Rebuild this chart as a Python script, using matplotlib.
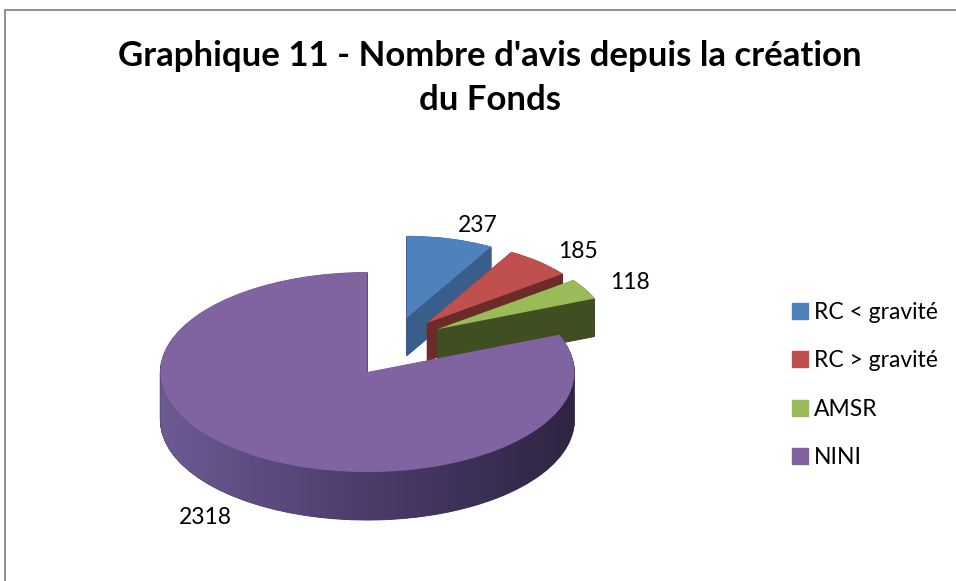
import numpy as np
import matplotlib
matplotlib.use("Agg")
import matplotlib.pyplot as plt
from matplotlib.colors import LinearSegmentedColormap
from matplotlib.patches import Rectangle, Polygon
from matplotlib.lines import Line2D

# ---------------- data ----------------
categories = ["RC < gravité", "RC > gravité", "AMSR", "NINI"]
values = [237, 185, 118, 2318]
title = "Graphique 11 - Nombre d'avis depuis la création\ndu Fonds"

top_colors = ["#4F81BD", "#C0504D", "#9BBB59", "#8064A2"]
side_colors = ["#3A5E8C", "#6B2B29", "#404F22", "#4B3C6B"]

plt.rcParams["font.family"] = ["Lato", "DejaVu Sans"]

W, H = 956, 581
fig = plt.figure(figsize=(W / 100, H / 100), dpi=100)
fig.patch.set_facecolor("white")

# outer chart border (cut on right/bottom like the reference)
fig.patches.append(Rectangle((5 / W, -0.2), 1.3, (H - 10) / H + 0.2,
                             transform=fig.transFigure, fill=False,
                             edgecolor="#868686", linewidth=1.3))

# ---------------- pie axes (squashed -> 3D look) ----------------
rx_px, ry_px = 207, 100
cx_px, cy_px = 394, 353
xlim = (-1.25, 1.25)
ylim = (-1.95, 1.75)
left = (cx_px + xlim[0] * rx_px) / W
width = (xlim[1] - xlim[0]) * rx_px / W
bottom = (H - cy_px + ylim[0] * ry_px) / H
height = (ylim[1] - ylim[0]) * ry_px / H
ax = fig.add_axes([left, bottom, width, height])

vals = np.array(values, dtype=float)
fr = vals / vals.sum()
cum = np.cumsum(fr)
mids = np.deg2rad(90 - 360 * (cum - fr / 2))

n = len(values)
big = n - 1                      # the large front slice
front = dict(radius=1.0, cy=0.0, expl=0.23, depth=0.48)
back = dict(radius=0.82, cy=0.12, expl=0.24, depth=0.38)   # perspective: smaller
nlayers = 70


def draw(geom, visible, zbase):
    for k in range(nlayers, -1, -1):
        dz = geom["depth"] * k / nlayers
        cols = top_colors if k == 0 else side_colors
        wedges, _ = ax.pie(values, explode=[geom["expl"]] * n, startangle=90,
                           counterclock=False, radius=geom["radius"],
                           center=(0, geom["cy"] - dz), colors=cols,
                           wedgeprops=dict(linewidth=0 if k == 0 else 0.6))
        for i, w in enumerate(wedges):
            if i not in visible:
                w.set_visible(False)
                continue
            if k > 0:
                w.set_edgecolor(side_colors[i])
            w.set_zorder(zbase + 2 * i + (1 if k == 0 else 0))


draw(back, list(range(n - 1)), 1)
draw(front, [big], 1)

# shading gradient on the front wall of the large slice
ex = front["expl"] * np.cos(mids[big])
ey = front["cy"] + front["expl"] * np.sin(mids[big])
d = front["depth"]
th = np.linspace(np.pi, 2 * np.pi, 300)
band = np.vstack([np.column_stack([ex + np.cos(th), ey + np.sin(th)]),
                  np.column_stack([ex + np.cos(th[::-1]), ey - d + np.sin(th[::-1])])])
poly = Polygon(band, closed=True, facecolor="none", edgecolor="none")
ax.add_patch(poly)
cmap = LinearSegmentedColormap.from_list("side", ["#6E5A93", "#4B3C6B", "#2F2542"])
im = ax.imshow(np.linspace(0, 1, 256).reshape(1, -1), cmap=cmap, aspect="auto",
               extent=[ex - 1, ex + 1, ey - d - 1, ey + 0.01],
               zorder=1 + 2 * big + 0.5)
im.set_clip_path(poly)

# data labels
for i, v in enumerate(values):
    g = front if i == big else back
    c, s = np.cos(mids[i]), np.sin(mids[i])
    r = 1.17 * g["radius"]
    x = (g["expl"] + r) * c
    y = g["cy"] + (g["expl"] + r) * s
    if s < 0:
        y -= g["depth"]
    ax.text(x, y, str(v), ha="left" if c > 0 else "right", va="center",
            fontsize=16.5, color="black", zorder=20, clip_on=False)

ax.set_aspect("auto")
ax.set_xlim(*xlim)
ax.set_ylim(*ylim)
ax.axis("off")

# title
fig.text(490 / W, 1 - 78 / H, title, ha="center", va="center", fontsize=25,
         fontweight="bold", linespacing=1.5)

# legend
handles = [Line2D([], [], marker="s", linestyle="none", markersize=11,
                  markerfacecolor=c, markeredgecolor=c) for c in top_colors]
fig.legend(handles, categories, loc="center left",
           bbox_to_anchor=(792 / W, 1 - 385 / H), frameon=False, fontsize=16.5,
           handlelength=0.7, handletextpad=0.25, labelspacing=1.2,
           borderpad=0, borderaxespad=0)

fig.savefig("out.png", dpi=100)
